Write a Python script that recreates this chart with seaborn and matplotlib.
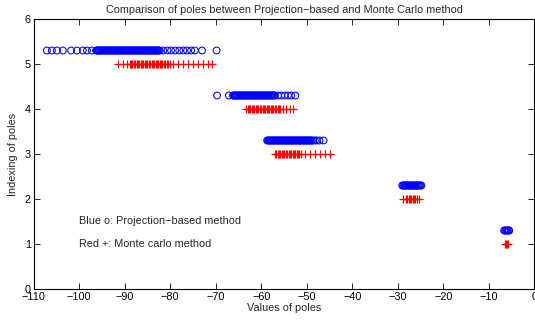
import matplotlib
matplotlib.use("Agg")
import matplotlib.pyplot as plt
import seaborn as sns
import pandas as pd

# Projection-based poles (blue circles), one list per pole index
pb5 = [-107.1, -106.0, -104.9, -103.6, -101.8, -100.5, -99.2, -98.3, -97.2,
       -96.3, -96.1, -95.9, -95.7, -95.5, -95.3, -95.1, -94.9, -94.7, -94.5,
       -94.3, -94.1, -93.9, -93.7, -93.5, -93.3, -93.1, -92.9, -92.7, -92.5,
       -92.3, -92.1, -91.9, -91.7, -91.5, -91.3, -91.1, -90.9, -90.7, -90.5,
       -90.3, -90.1, -89.9, -89.7, -89.5, -89.3, -89.1, -88.9, -88.7, -88.5,
       -88.3, -88.1, -87.9, -87.7, -87.5, -87.3, -87.1, -86.9, -86.7, -86.5,
       -86.3, -86.1, -85.9, -85.7, -85.5, -85.3, -85.1, -84.9, -84.7, -84.5,
       -84.3, -84.1, -83.9, -83.7, -83.5, -83.3, -83.1, -82.9, -82.7, -82.5,
       -82.3, -81.5, -80.6, -79.8, -78.9, -78.0, -77.1, -76.3, -75.4, -74.6,
       -73.0, -69.8]
pb4 = [-69.7, -67.1, -66.2, -66.0, -65.8, -65.6, -65.4, -65.2, -65.0, -64.8,
       -64.6, -64.4, -64.2, -64.0, -63.8, -63.6, -63.4, -63.2, -63.0, -62.8,
       -62.6, -62.4, -62.2, -62.0, -61.8, -61.6, -61.4, -61.2, -61.0, -60.8,
       -60.6, -60.4, -60.2, -60.0, -59.8, -59.6, -59.4, -59.2, -59.0, -58.8,
       -58.6, -58.4, -58.2, -58.0, -57.8, -57.6, -57.4, -57.2, -57.0, -56.3,
       -55.6, -54.8, -54.1, -53.4, -52.5]
pb3 = [-58.7, -58.5, -58.3, -58.1, -57.9, -57.7, -57.5, -57.3, -57.1, -56.9,
       -56.7, -56.5, -56.3, -56.1, -55.9, -55.7, -55.5, -55.3, -55.1, -54.9,
       -54.7, -54.5, -54.3, -54.1, -53.9, -53.7, -53.5, -53.3, -53.1, -52.9,
       -52.7, -52.5, -52.3, -52.1, -51.9, -51.7, -51.5, -51.3, -51.1, -50.9,
       -50.7, -50.5, -50.3, -50.1, -49.9, -49.7, -49.5, -49.3, -49.1, -48.9,
       -48.6, -48.2, -47.8, -47.2, -46.3]
pb2 = [-29.0, -28.8, -28.6, -28.4, -28.2, -28.0, -27.8, -27.6, -27.4, -27.2,
       -27.0, -26.8, -26.6, -26.4, -26.2, -26.0, -25.8, -25.6, -25.4, -25.2,
       -25.0, -24.8]
pb1 = [-6.6, -6.4, -6.2, -6.0, -5.8, -5.6, -5.5]

# Monte Carlo poles (red plus)
mc5 = [-91.4, -90.3, -89.4, -88.9, -88.6, -88.3, -88.0, -87.7, -87.4, -87.1,
       -86.8, -86.5, -86.2, -85.9, -85.6, -85.3, -85.0, -84.7, -84.4, -84.1,
       -83.8, -83.5, -83.2, -82.9, -82.6, -82.3, -82.0, -81.7, -81.4, -81.1,
       -80.8, -80.5, -80.1, -79.4, -78.3, -77.2, -76.1, -75.0, -73.9, -72.8,
       -71.7, -70.9]
mc4 = [-63.4, -63.0, -62.7, -62.4, -62.1, -61.8, -61.5, -61.2, -60.9, -60.6,
       -60.3, -60.0, -59.7, -59.4, -59.1, -58.8, -58.5, -58.2, -57.9, -57.6,
       -57.3, -57.0, -56.7, -56.4, -56.1, -55.8, -55.2, -54.5, -53.7, -53.0]
mc3 = [-57.0, -56.7, -56.4, -56.1, -55.8, -55.5, -55.2, -54.9, -54.6, -54.3,
       -54.0, -53.7, -53.4, -53.1, -52.8, -52.5, -52.2, -51.9, -51.6, -51.3,
       -50.4, -49.3, -48.2, -47.1, -46.0, -44.9]
mc2 = [-28.8, -28.2, -27.9, -27.6, -27.3, -27.0, -26.7, -26.4, -26.1, -25.8,
       -25.4]
mc1 = [-6.4, -6.2, -6.0, -5.8]

pb_levels = [5.3, 4.3, 3.3, 2.3, 1.3]
mc_levels = [5, 4, 3, 2, 1]

xticks = list(range(-110, 1, 10))
yticks = [0, 1, 2, 3, 4, 5, 6]

title = "Comparison of poles between Projection\u2212based and Monte Carlo method"
xlabel = "Values of poles"
ylabel = "Indexing of poles"
note_pb = "Blue o: Projection\u2212based method"
note_mc = "Red +: Monte carlo method"

rows = []
for lvl, vals in zip(pb_levels, [pb5, pb4, pb3, pb2, pb1]):
    rows += [(v, lvl, "pb") for v in vals]
for lvl, vals in zip(mc_levels, [mc5, mc4, mc3, mc2, mc1]):
    rows += [(v, lvl, "mc") for v in vals]
df = pd.DataFrame(rows, columns=["pole", "index", "method"])

sns.set_theme(style="white")
plt.rcParams["font.family"] = ["Liberation Sans", "DejaVu Sans"]
plt.rcParams["axes.unicode_minus"] = True

fs = 7.8
fig = plt.figure(figsize=(5.35, 3.2), dpi=100)
ax = fig.add_axes([33.7 / 535, 31 / 320, 500.5 / 535, 270 / 320])

sns.scatterplot(data=df[df.method == "pb"], x="pole", y="index", ax=ax,
                marker="o", s=24, facecolor="none", edgecolor="#0000ff",
                linewidth=0.75, legend=False)
sns.scatterplot(data=df[df.method == "mc"], x="pole", y="index", ax=ax,
                marker="+", s=26, color="#ff0000", linewidth=0.9,
                legend=False)

ax.set_xlim(-110, 0)
ax.set_ylim(0, 6)
ax.set_xticks(xticks)
ax.set_yticks(yticks)
ax.set_xticklabels([str(t).replace("-", "\u2212") for t in xticks], fontsize=fs)
ax.set_yticklabels([str(t) for t in yticks], fontsize=fs)
ax.tick_params(direction="in", length=4, width=0.6, top=True, right=True,
               bottom=True, left=True, pad=2, colors="black")
for sp in ax.spines.values():
    sp.set_visible(True)
    sp.set_color("black")
    sp.set_linewidth(0.8)

ax.set_title(title, fontsize=fs, pad=4)
ax.set_xlabel(xlabel, fontsize=fs, labelpad=1)
ax.set_ylabel(ylabel, fontsize=fs, labelpad=5)
ax.text(-100, 1.5, note_pb, fontsize=fs, va="center", ha="left")
ax.text(-100, 1.0, note_mc, fontsize=fs, va="center", ha="left")

fig.savefig("out.png", dpi=100)
